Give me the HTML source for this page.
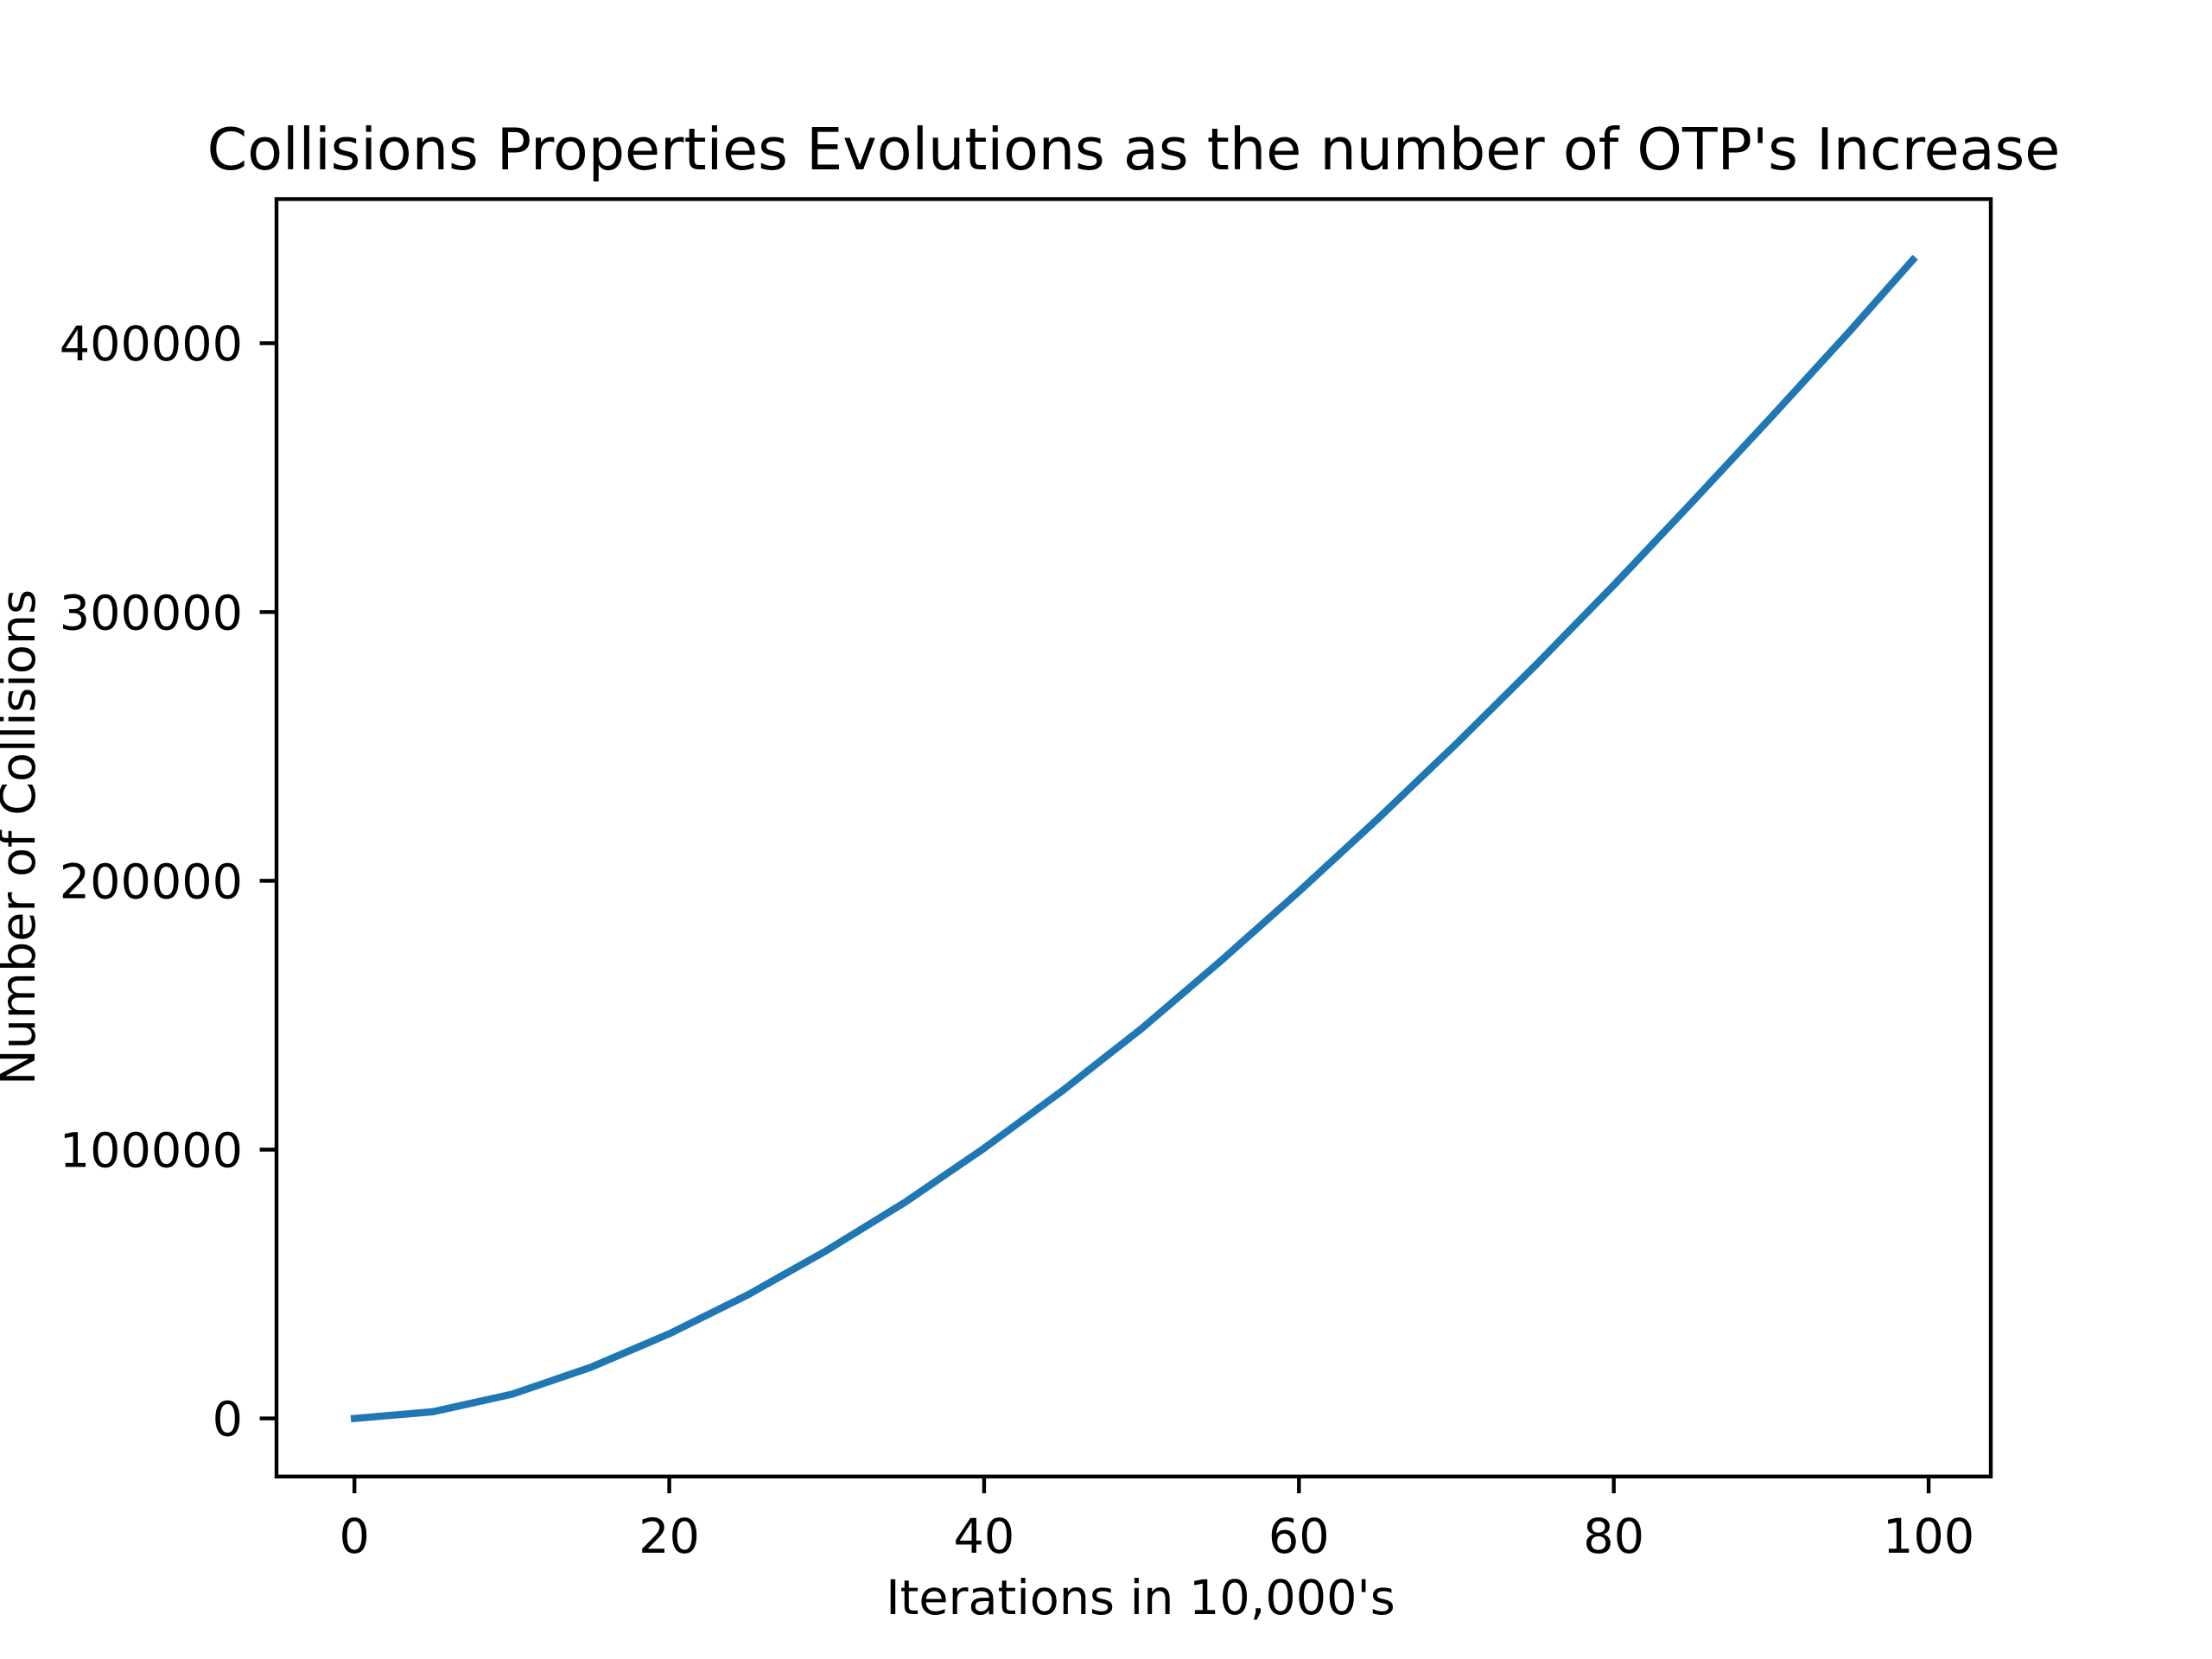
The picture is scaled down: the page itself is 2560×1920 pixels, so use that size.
<!DOCTYPE html>
<html><head><meta charset="utf-8"><style>
html,body{margin:0;padding:0;background:#fff}
svg{display:block;font-family:"DejaVu Sans","Liberation Sans",sans-serif}
</style></head><body>
<svg id="chart" width="2560" height="1920" viewBox="0 0 2560 1920" xmlns="http://www.w3.org/2000/svg">
<rect width="2560" height="1920" fill="#fff"/>
<text x="1312" y="196" font-size="66.7" text-anchor="middle">Collisions Properties Evolutions as the number of OTP's Increase</text>
<g id="xticks"></g><g id="yticks"></g>
<path id="line" fill="none" stroke="#1f77b4" stroke-width="8.33" stroke-linecap="square" stroke-linejoin="round"/>
<rect x="320" y="230.4" width="1984" height="1478.4" fill="none" stroke="#000" stroke-width="4.4"/>
<text x="1320" y="1868" font-size="55.6" text-anchor="middle">Iterations in 10,000's</text>
<text transform="translate(40,969) rotate(-90)" font-size="55.6" text-anchor="middle">Number of Collisions</text>
</svg>
<script>
const xValues=[0,5,10,15,20,25,30,35,40,45,50,55,60,65,70,75,80,85,90,95,99];
const yValues=[0,2500,9000,19000,31500,46000,62500,80500,100500,122000,145000,170000,196000,223000,251000,280000,310000,341000,372500,404500,431000];
const xTicks=[0,20,40,60,80,100];
const yTicks=[0,100000,200000,300000,400000];
const L=320,R=2304,T=230.4,B=1708.8;
const xmin=-4.95,xmax=103.95,ymin=-21600,ymax=453600;
function sx(v){return L+(v-xmin)/(xmax-xmin)*(R-L);}
function sy(v){return B-(v-ymin)/(ymax-ymin)*(B-T);}
const NS="http://www.w3.org/2000/svg";
document.getElementById('line').setAttribute('d',xValues.map((x,i)=>(i?'L':'M')+sx(x).toFixed(1)+','+sy(yValues[i]).toFixed(1)).join(' '));
const xg=document.getElementById('xticks'),yg=document.getElementById('yticks');
xTicks.forEach(t=>{
 const l=document.createElementNS(NS,'line');
 
 
 l.setAttribute('x1',sx(t));l.setAttribute('x2',sx(t));l.setAttribute('y1',B);l.setAttribute('y2',B+19.4);
 l.setAttribute('stroke','#000');l.setAttribute('stroke-width','4.4');xg.appendChild(l);
 const tx=document.createElementNS(NS,'text');
 
 
 tx.setAttribute('x',sx(t));tx.setAttribute('y',B+88);tx.setAttribute('font-size','55.6');tx.setAttribute('text-anchor','middle');
 tx.textContent=t;xg.appendChild(tx);
});
yTicks.forEach(t=>{
 const l=document.createElementNS(NS,'line');
 
 
 l.setAttribute('x1',L-19.4);l.setAttribute('x2',L);l.setAttribute('y1',sy(t));l.setAttribute('y2',sy(t));
 l.setAttribute('stroke','#000');l.setAttribute('stroke-width','4.4');yg.appendChild(l);
 const tx=document.createElementNS(NS,'text');
 
 
 tx.setAttribute('x',L-39);tx.setAttribute('y',sy(t)+20);tx.setAttribute('font-size','55.6');tx.setAttribute('text-anchor','end');
 tx.textContent=t;yg.appendChild(tx);
});
</script>
</body></html>
